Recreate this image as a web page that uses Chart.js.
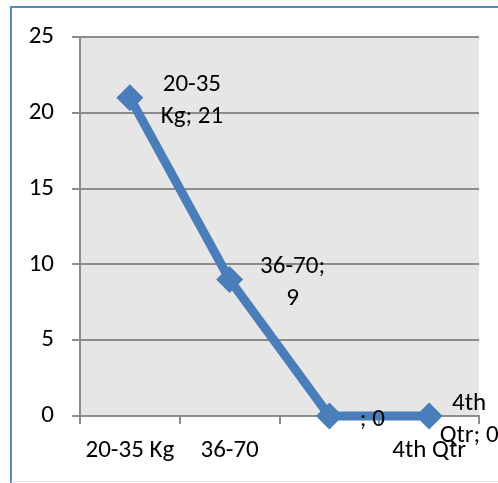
<!DOCTYPE html>
<html>
<head>
<meta charset="utf-8">
<script src="https://cdn.jsdelivr.net/npm/chart.js@4/dist/chart.umd.min.js"></script>
<style>
  html, body { margin: 0; padding: 0; background: #ffffff; }
  #wrap { width: 498px; height: 483px; }
</style>
</head>
<body>
<div id="wrap"><canvas id="chart" width="498" height="483"></canvas></div>
<script>
// Categories and series values
const categories = ['20-35 Kg', '36-70', '', '4th Qtr'];
const values = [21, 9, 0, 0];
const yTicks = [0, 5, 10, 15, 20, 25];

const FONT = 'Carlito, "Open Sans", "Liberation Sans", sans-serif';
const FONT_SIZE = 25;
const LINE_BLUE = '#4A7EBB';
const GRID_GREY = '#8C8C8C';

// Frame and plot-area background
const framePlugin = {
  id: 'frame',
  beforeDraw(chart) {
    const ctx = chart.ctx;
    const a = chart.chartArea;
    ctx.save();
    ctx.fillStyle = '#ffffff';
    ctx.fillRect(0, 0, chart.width, chart.height);
    ctx.fillStyle = '#E6E6E6';
    ctx.fillRect(a.left, a.top, a.right - a.left, a.bottom - a.top);
    // outer chart border
    ctx.lineWidth = 2;
    ctx.strokeStyle = '#5A86C0';
    ctx.beginPath();
    ctx.moveTo(11, chart.height);
    ctx.lineTo(11, 7);
    ctx.lineTo(chart.width, 7);
    ctx.stroke();
    ctx.lineWidth = 1;
    ctx.strokeStyle = '#DCE5F0';
    ctx.beginPath();
    ctx.moveTo(11, 481.5);
    ctx.lineTo(chart.width, 481.5);
    ctx.stroke();
    ctx.restore();
  }
};

// Point labels "category; value", wrapped and placed right of each marker
const labelPlugin = {
  id: 'pointLabels',
  afterDatasetsDraw(chart, args, opts) {
    const ctx = chart.ctx;
    const meta = chart.getDatasetMeta(0);
    ctx.save();
    ctx.font = FONT_SIZE + 'px ' + FONT;
    ctx.fillStyle = '#000000';
    ctx.textAlign = 'center';
    ctx.textBaseline = 'alphabetic';
    meta.data.forEach((pt, i) => {
      const text = categories[i] + '; ' + values[i];
      const words = text.split(' ');
      const lines = [];
      let cur = '';
      words.forEach(w => {
        const test = cur ? cur + ' ' + w : w;
        if (cur && ctx.measureText(test).width > opts.maxWidth) {
          lines.push(cur);
          cur = w;
        } else {
          cur = test;
        }
      });
      if (cur) lines.push(cur);
      const cx = pt.x + opts.dx[i];
      const n = lines.length;
      lines.forEach((ln, k) => {
        const y = pt.y + opts.dy + (k - (n - 1) / 2) * opts.lineGap + opts.capHalf;
        ctx.fillText(ln, cx, y);
      });
    });
    ctx.restore();
  }
};

new Chart(document.getElementById('chart'), {
  type: 'line',
  data: {
    labels: categories,
    datasets: [{
      data: values,
      borderColor: LINE_BLUE,
      backgroundColor: LINE_BLUE,
      borderWidth: 9,
      pointStyle: 'rectRot',
      pointRadius: 13.5,
      pointHoverRadius: 13.5,
      pointBackgroundColor: LINE_BLUE,
      pointBorderColor: LINE_BLUE,
      pointBorderWidth: 0,
      tension: 0,
      fill: false,
      clip: false
    }]
  },
  options: {
    responsive: false,
    devicePixelRatio: 1,
    animation: false,
    events: [],
    layout: { padding: { left: 0, top: 37, right: 19, bottom: 0 } },
    plugins: {
      legend: { display: false },
      title: { display: false },
      tooltip: { enabled: false },
      pointLabels: { dx: [62, 63, 43, 40], dy: 1.5, lineGap: 32, capHalf: 8, maxWidth: 72 }
    },
    scales: {
      x: {
        type: 'category',
        offset: true,
        grid: {
          display: true,
          offset: true,
          drawOnChartArea: false,
          drawTicks: true,
          tickLength: 8,
          color: GRID_GREY,
          lineWidth: 2
        },
        border: { display: true, color: GRID_GREY, width: 2 },
        ticks: {
          color: '#000000',
          font: { family: FONT, size: FONT_SIZE },
          padding: 12,
          maxRotation: 0,
          autoSkip: false
        },
        afterFit(scale) { scale.height = 67; }
      },
      y: {
        min: 0,
        max: 25,
        afterBuildTicks(scale) { scale.ticks = yTicks.map(v => ({ value: v })); },
        grid: {
          display: true,
          drawTicks: true,
          tickLength: 8,
          color: GRID_GREY,
          lineWidth: 2
        },
        border: { display: true, color: GRID_GREY, width: 2 },
        ticks: {
          color: '#000000',
          font: { family: FONT, size: FONT_SIZE },
          padding: 18
        },
        afterFit(scale) { scale.width = 80; }
      }
    }
  },
  plugins: [framePlugin, labelPlugin]
});
</script>
</body>
</html>
